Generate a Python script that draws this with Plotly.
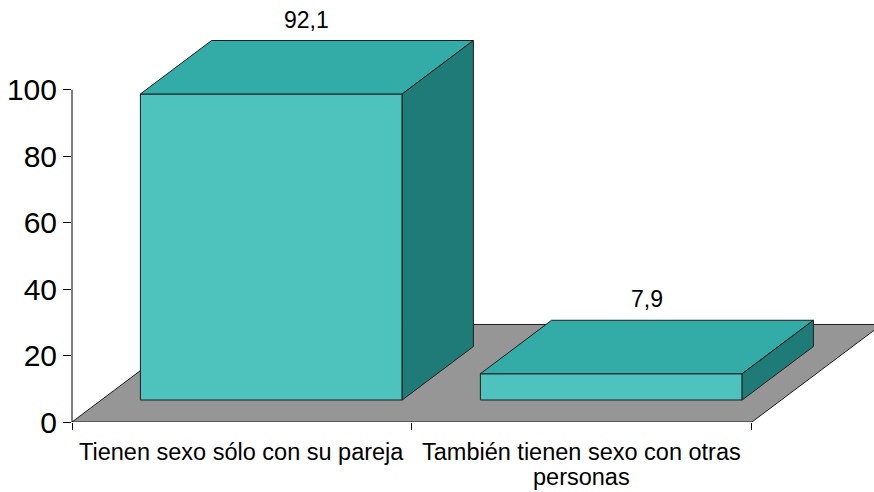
import plotly.graph_objects as go

# Survey shares (%) by category
categories = ["Tienen sexo sólo con su pareja", "También tienen sexo con otras personas"]
category_lines = [["Tienen sexo sólo con su pareja"], ["También tienen sexo con otras", "personas"]]
values = [92.1, 7.9]
y_ticks = [0, 20, 40, 60, 80, 100]

# Pseudo-3D geometry, in axis units
X_RANGE = [-0.5, 1.859]
Y_RANGE = [0, 124]
DEPTH_X, DEPTH_Y = 0.382, 29.35      # full floor depth vector
FRONT, BACK = 0.2256, 0.774          # bar depth span as fractions of the floor depth
BAR_W = 0.77

FONT = "Liberation Sans, Arial, sans-serif"
C_FRONT, C_TOP, C_SIDE = "#4EC3BE", "#33ABA6", "#1F7B77"
C_FLOOR, C_EDGE = "#969696", "#1E1E1E"

fig = go.Figure()


def poly(xs, ys, color):
    fig.add_trace(go.Scatter(
        x=list(xs) + [xs[0]], y=list(ys) + [ys[0]],
        mode="lines", fill="toself", fillcolor=color,
        line=dict(color=C_EDGE, width=1), hoverinfo="skip", showlegend=False,
    ))


# floor
n = len(categories)
left, right = -0.5, n - 0.5
poly([left, right, right + DEPTH_X, left + DEPTH_X], [0, 0, DEPTH_Y, DEPTH_Y], C_FLOOR)

# bars: front, top and right side faces
bx, by = (BACK - FRONT) * DEPTH_X, (BACK - FRONT) * DEPTH_Y
for i, v in enumerate(values):
    xl = i - BAR_W / 2 + FRONT * DEPTH_X
    xr = xl + BAR_W
    y0 = FRONT * DEPTH_Y
    y1 = y0 + v
    poly([xl, xr, xr, xl], [y0, y0, y1, y1], C_FRONT)
    poly([xl, xr, xr + bx, xl + bx], [y1, y1, y1 + by, y1 + by], C_TOP)
    poly([xr, xr + bx, xr + bx, xr], [y0, y0 + by, y1 + by, y1], C_SIDE)
    fig.add_annotation(
        x=i + 0.5 * DEPTH_X, y=y1 + by + 6.3, xref="x", yref="y",
        text=f"{v:.1f}".replace(".", ","), showarrow=False,
        font=dict(family=FONT, size=23, color="black"), yanchor="middle",
    )

# category labels under the floor
for i, lines in enumerate(category_lines):
    for k, line in enumerate(lines):
        fig.add_annotation(
            x=i, y=0, xref="x", yref="y", text=line, showarrow=False,
            font=dict(family=FONT, size=23.5, color="black"),
            yanchor="top", yshift=-15 - 24.5 * k,
        )

# value axis line spanning 0..100 only
fig.add_shape(type="line", xref="paper", yref="y", x0=0, x1=0, y0=0, y1=100,
              line=dict(color="black", width=1))

fig.update_layout(
    width=874, height=492,
    margin=dict(l=72, r=0, t=10, b=70),
    paper_bgcolor="white", plot_bgcolor="white",
    font=dict(family=FONT, color="black"),
    xaxis=dict(range=X_RANGE, showgrid=False, zeroline=False, showline=False,
               tickmode="array", tickvals=[b - 0.5 for b in range(n + 1)],
               showticklabels=False, ticks="outside", ticklen=7,
               tickcolor="black", fixedrange=True),
    yaxis=dict(range=Y_RANGE, showgrid=False, zeroline=False, showline=False,
               tickmode="array", tickvals=y_ticks, ticks="outside", ticklen=8,
               tickcolor="black", tickfont=dict(family=FONT, size=30, color="black"),
               fixedrange=True),
)

fig.write_html("out.html")
